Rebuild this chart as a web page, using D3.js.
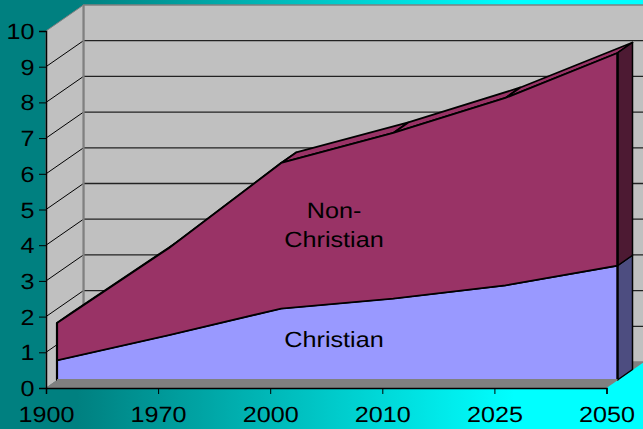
<!DOCTYPE html>
<html><head><meta charset="utf-8">
<script src="https://cdn.jsdelivr.net/npm/d3@7"></script>
<style>html,body{margin:0;padding:0;overflow:hidden}svg{display:block}text{font-family:"Liberation Sans",Arial,sans-serif;fill:#000;text-rendering:geometricPrecision}</style>
</head><body><script>
const categories=["1900","1970","2000","2010","2025","2050"];
const christian=[0.55,1.26,2.0,2.28,2.65,3.2];
const nonChristian=[1.05,2.44,4.08,4.64,5.25,5.96];
const yTicks=[0,1,2,3,4,5,6,7,8,9,10];
const W=643,H=429,FS=22,SX=1.145;
const COL={c:"#9999ff",n:"#993366",cs:"#4d4d80",ns:"#4d1a33",wall:"#c0c0c0",floor:"#808080"};
const x=d3.scalePoint().domain(categories).range([46,606.5]);
const y=d3.scaleLinear().domain([0,10]).range([388,31]);
const depth=[37.5,-26], front=[11,-8], side=[15,-10.5];
const svg=d3.select("body").append("svg").attr("width",W).attr("height",H);
const defs=svg.append("defs");
const g=defs.append("linearGradient").attr("id","bg").attr("x1",0).attr("x2",1).attr("y1",0).attr("y2",0);
[[0,"#008080"],[0.12,"#008080"],[0.8,"#00ffff"],[1,"#00ffff"]].forEach(s=>g.append("stop").attr("offset",s[0]).attr("stop-color",s[1]));
svg.append("rect").attr("width",W).attr("height",H).attr("fill","url(#bg)");
const poly=(pts,fill,stroke,sw)=>svg.append("path").attr("d","M"+pts.map(p=>p.join(",")).join("L")+"Z").attr("fill",fill).attr("stroke",stroke||"none").attr("stroke-width",sw||0).attr("stroke-linejoin","round");
const line=(a,b,stroke,sw)=>svg.append("line").attr("x1",a[0]).attr("y1",a[1]).attr("x2",b[0]).attr("y2",b[1]).attr("stroke",stroke).attr("stroke-width",sw);
const x0=x(categories[0]),x1=x(categories[5]),yb=y(0),yt=y(10);
// walls and floor
poly([[x0+depth[0],yt+depth[1]],[W+30,yt+depth[1]],[W+30,yb+depth[1]],[x0+depth[0],yb+depth[1]]],COL.wall,"#808080",1.5);
poly([[x0,yt],[x0+depth[0],yt+depth[1]],[x0+depth[0],yb+depth[1]],[x0,yb]],COL.wall,"#808080",1);
yTicks.slice(1,-1).forEach(v=>{
  line([x0,y(v)],[x0+depth[0],y(v)+depth[1]],"#000",1);
  line([x0+depth[0],y(v)+depth[1]],[W,y(v)+depth[1]],"#222",1.3);
});
line([x0+depth[0],yt+depth[1]],[x0+depth[0],yb+depth[1]],"#808080",2.2);
poly([[x0,yb],[x0+depth[0],yb+depth[1]],[x1+depth[0],yb+depth[1]],[x1,yb]],COL.floor);
// areas: front plane and side extrusion
const fx=d=>x(d)+front[0], fy=v=>y(v)+front[1];
const totals=christian.map((v,i)=>v+nonChristian[i]);
const area=d3.area().x(d=>fx(d.c)).y0(d=>fy(d.a)).y1(d=>fy(d.b));
// top faces of the upper series
for(let i=0;i<categories.length-1;i++){
  const a=[fx(categories[i]),fy(totals[i])],b=[fx(categories[i+1]),fy(totals[i+1])];
  poly([a,b,[b[0]+side[0],b[1]+side[1]],[a[0]+side[0],a[1]+side[1]]],COL.n,"#000",1.8);
}
// right side faces
const rx=fx(categories[5]);
poly([[rx,fy(0)],[rx,fy(christian[5])],[rx+side[0],fy(christian[5])+side[1]],[rx+side[0],fy(0)+side[1]]],COL.cs,"#000",1.5);
poly([[rx,fy(christian[5])],[rx,fy(totals[5])],[rx+side[0],fy(totals[5])+side[1]],[rx+side[0],fy(christian[5])+side[1]]],COL.ns,"#000",1.5);
// front faces
svg.append("path").datum(categories.map((c,i)=>({c,a:0,b:christian[i]}))).attr("d",area).attr("fill",COL.c).attr("stroke","#000").attr("stroke-width",1.5);
svg.append("path").datum(categories.map((c,i)=>({c,a:christian[i],b:totals[i]}))).attr("d",area).attr("fill",COL.n).attr("stroke","#000").attr("stroke-width",1.8);
line([fx(categories[0]),fy(0)],[fx(categories[0]),fy(totals[0])],"#000",2.2);
line([rx,fy(0)],[rx,fy(totals[5])],"#000",2.2);
svg.append("path").datum(categories.map(c=>[fx(c),fy(0)])).attr("d",d3.line()).attr("stroke",COL.floor).attr("stroke-width",2).attr("fill","none");
// axes
const xAxis=d3.axisBottom(x).tickSizeOuter(0).tickSize(6);
const yAxis=d3.axisLeft(y).tickValues(yTicks).tickSizeOuter(0).tickSize(7);
const ax=svg.append("g").attr("transform",`translate(0,${yb})`).call(xAxis);
const ay=svg.append("g").attr("transform",`translate(${x0},0)`).call(yAxis);
[ax,ay].forEach(a=>{a.selectAll("path.domain").attr("stroke","#000").attr("stroke-width",1.5);a.selectAll(".tick line").attr("stroke","#000").attr("stroke-width",1);});
ax.selectAll("text").attr("font-size",FS).attr("font-family",null).attr("y",0).attr("dy",0).attr("text-anchor","middle").attr("transform",`translate(0,33.5) scale(${SX},1)`);
ay.selectAll("text").attr("font-size",FS).attr("font-family",null).attr("x",0).attr("dy",0).attr("text-anchor","end").attr("transform",`translate(-11.5,7.5) scale(${SX},1)`);
// direct labels
const label=(t,cx,by)=>svg.append("text").text(t).attr("font-size",FS).attr("text-anchor","middle").attr("transform",`translate(${cx},${by}) scale(${SX},1)`);
label("Non-",334,218);
label("Christian",334,247);
label("Christian",334,347);
</script></body></html>
